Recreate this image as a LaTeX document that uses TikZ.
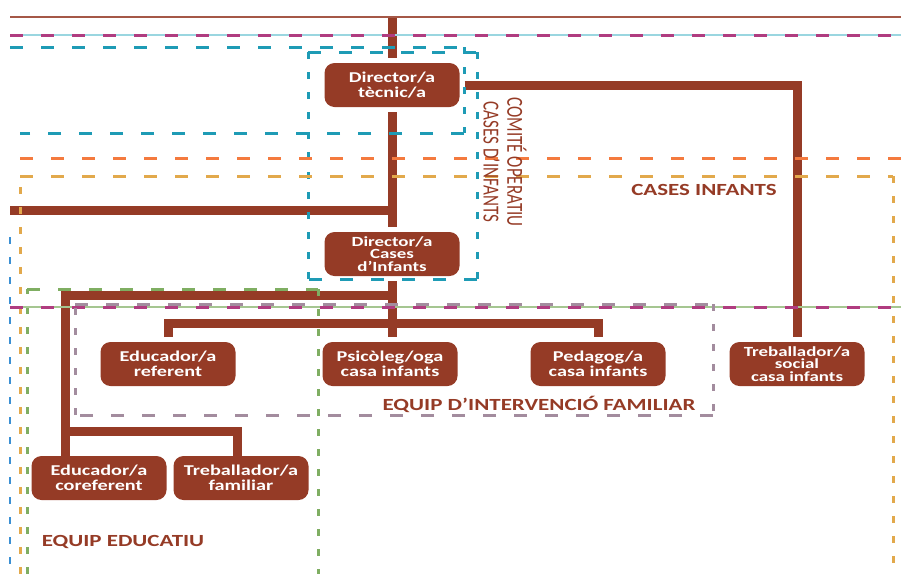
\documentclass[tikz,border=0pt]{standalone}
\usepackage{fontspec}
\setmainfont{Carlito}
\newfontfamily\wide[FakeStretch=1.35]{Carlito}
\definecolor{brn}{HTML}{953B26}
\definecolor{tealA}{HTML}{1E9BB5}
\definecolor{tealL}{HTML}{9AD6E0}
\definecolor{mag}{HTML}{B03C80}
\definecolor{orng}{HTML}{F47A3E}
\definecolor{gold}{HTML}{E2A94C}
\definecolor{grn}{HTML}{7FAE62}
\definecolor{mauve}{HTML}{A38C9E}
\definecolor{blu}{HTML}{3A8FD3}
\tikzset{
  box/.style={rounded corners=10pt, fill=brn, minimum width=135pt, minimum height=44pt,
    text=white, font=\wide\bfseries\fontsize{15}{15}\selectfont, align=center,
    inner sep=0pt, outer sep=5pt},
  box3/.style={box, font=\wide\bfseries\fontsize{14}{12.5}\selectfont},
  conn/.style={brn, line width=9pt},
  hd/.style={dash pattern=on 13pt off 18pt, line width=3pt},
  vd/.style={dash pattern=on 7pt off 13pt, line width=3pt},
  lbl/.style={text=brn, font=\wide\bfseries\fontsize{17}{17}\selectfont, inner sep=0pt}
}
\begin{document}
\begin{tikzpicture}[x=1pt,y=-1pt]
\useasboundingbox (0,0) rectangle (901,574);
% nodes
\node[box]  (dt) at (392,85)  {Director/a\\tècnic/a};
\node[box3] (dc) at (392,254) {Director/a\\Cases\\d’Infants};
\node[box]  (er) at (168,364) {Educador/a\\referent};
\node[box]  (ps) at (390,364) {Psicòleg/oga\\casa infants};
\node[box]  (pe) at (598,364) {Pedagog/a\\casa infants};
\node[box3] (ts) at (797,364) {Treballador/a\\social\\casa infants};
\node[box]  (ec) at (99,478)  {Educador/a\\coreferent};
\node[box]  (tf) at (241,478) {Treballador/a\\familiar};
% coordinates
\coordinate (top) at (392,17);
\coordinate (lft) at (10,210);
\coordinate (h1) at (0,323);
\coordinate (h2) at (65,295);
\coordinate (h3) at (65,431);
\coordinate (tfd) at (237,431);
% connectors
\draw[conn] (top) -- (dt.north);
\draw[conn] (dt.south) -- (dc.north);
\draw[conn] (lft) -- (lft -| dc.north);
\draw[conn] (dt.east) -- (dt.east -| ts.north) -- (ts.north);
\draw[conn] (dc.south) -- (dc.south |- ps.north);
\draw[conn] (er.north) -- (er.north |- h1) -| (pe.north);
\draw[conn] (dc.south |- h2) -- (h2) -- ([yshift=-5pt]h2 |- ec.north);
\draw[conn] (h3) -- (tfd) -- ([yshift=-5pt]tfd |- tf.north);
% dashed frames and lines
\draw[brn!85, line width=1.2pt] (10,17) -- (901,17);
\draw[tealL, line width=1.5pt] (10,35) -- (901,35);
\draw[mag, hd] (10,35) -- (901,35);
% teal box A
\draw[tealA, hd] (10,47) -- (464,47);
\draw[tealA, vd] (464,47) -- (464,133);
\draw[tealA, hd] (464,133) -- (20,133);
% teal box B
\draw[tealA, hd] (308,52) -- (477,52);
\draw[tealA, vd] (477,52) -- (477,279);
\draw[tealA, hd] (477,279) -- (308,279);
\draw[tealA, vd] (308,279) -- (308,52);
% orange
\draw[orng, hd] (20,158) -- (901,158);
% gold box
\draw[gold, vd] (20,574) -- (20,176);
\draw[gold, hd] (20,176) -- (893,176);
\draw[gold, vd] (893,176) -- (893,574);
% blue left
\draw[blu, dash pattern=on 7pt off 13pt, line width=2pt] (10,237) -- (10,574);
% green box
\draw[grn, vd] (27,574) -- (27,289);
\draw[grn, hd] (27,289) -- (318,289);
\draw[grn, vd] (318,289) -- (318,574);
% magenta line with green underline
\draw[grn!70, line width=1.2pt] (10,307) -- (901,307);
\draw[mag, hd] (10,307) -- (901,307);
% mauve box
\draw[mauve, hd] (75,304) -- (713,304);
\draw[mauve, vd] (713,304) -- (713,415);
\draw[mauve, hd] (713,415) -- (75,415);
\draw[mauve, vd] (75,415) -- (75,304);
% labels
\node[lbl] (lci) at (704,190) {CASES INFANTS};
\node[lbl] (lee) at (123,542) {EQUIP EDUCATIU};
\node[lbl] (lef) at (539,404) {EQUIP D’INTERVENCIÓ FAMILIAR};
\node[text=brn, font=\fontsize{17}{17.5}\selectfont, align=center, inner sep=0pt,
  rotate=-90, yscale=1.35] (lco) at (505,162) {COMITÉ OPERATIU\\CASES D’INFANTS};
\end{tikzpicture}
\end{document}
